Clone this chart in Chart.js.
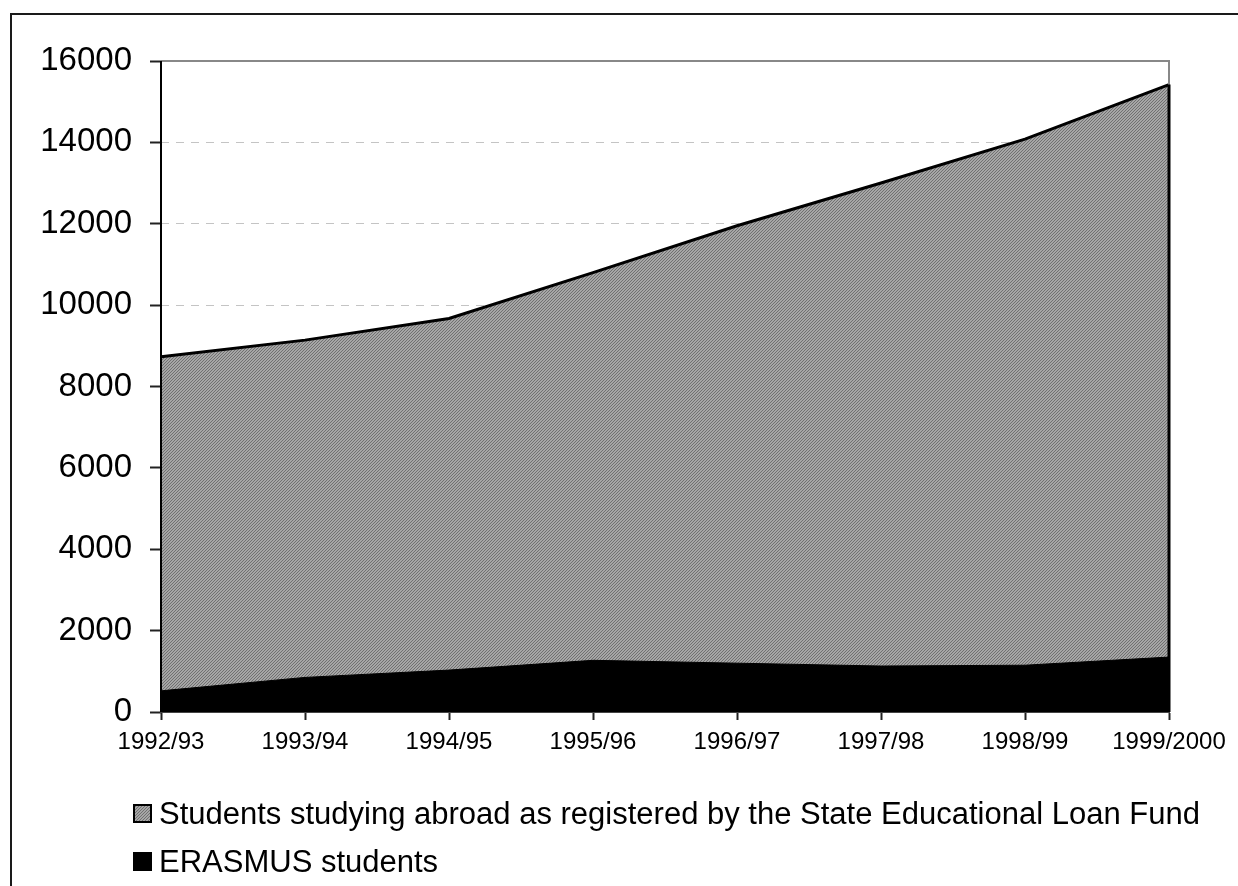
<!DOCTYPE html>
<html>
<head>
<meta charset="utf-8">
<script src="https://cdn.jsdelivr.net/npm/chart.js@4.4.0/dist/chart.umd.min.js"></script>
<style>
  html, body { margin: 0; padding: 0; background: #fff; }
  canvas { display: block; }
</style>
</head>
<body>
<canvas id="chart" width="1238" height="886"></canvas>
<script>
// Data
const years = ['1992/93', '1993/94', '1994/95', '1995/96', '1996/97', '1997/98', '1998/99', '1999/2000'];
const loanFundStudents = [8730, 9140, 9670, 10800, 11950, 13000, 14080, 15420];
const erasmusStudents = [520, 850, 1030, 1270, 1200, 1130, 1150, 1350];
const yTicks = [0, 2000, 4000, 6000, 8000, 10000, 12000, 14000, 16000];
const legendLabels = [
    'Students studying abroad as registered by the State Educational Loan Fund',
    'ERASMUS students'
];

// Fine diagonal hatch for the grey area
function makeHatch() {
    const c = document.createElement('canvas');
    c.width = 3; c.height = 3;
    const g = c.getContext('2d');
    g.fillStyle = '#a6a6a6';
    g.fillRect(0, 0, 3, 3);
    g.fillStyle = '#707070';
    for (let i = 0; i < 3; i++) g.fillRect(2 - i, i, 1, 1);
    return g.createPattern(c, 'repeat');
}
const hatch = makeHatch();

const FONT = "'Liberation Sans', Arial, sans-serif";

// Frame, plot border and legend
const decorPlugin = {
    id: 'decor',
    beforeDraw(chart) {
        const ctx = chart.ctx;
        ctx.save();
        ctx.fillStyle = '#fff';
        ctx.fillRect(0, 0, chart.width, chart.height);
        ctx.strokeStyle = '#1a1a1a';
        ctx.lineWidth = 2;
        ctx.strokeRect(11, 14, chart.width + 20, chart.height + 20);
        ctx.restore();
    },
    afterDatasetsDraw(chart) {
        const ctx = chart.ctx;
        const a = chart.chartArea;
        const x = chart.scales.x, y = chart.scales.y;
        ctx.save();
        // top and right plot border
        ctx.strokeStyle = '#888';
        ctx.lineWidth = 2;
        ctx.beginPath();
        ctx.moveTo(a.left, a.top);
        ctx.lineTo(a.right, a.top);
        ctx.lineTo(a.right, a.bottom);
        ctx.stroke();
        // right edge of the grey area
        const last = loanFundStudents.length - 1;
        ctx.strokeStyle = '#000';
        ctx.lineWidth = 3;
        ctx.beginPath();
        ctx.moveTo(x.getPixelForValue(last), y.getPixelForValue(loanFundStudents[last]));
        ctx.lineTo(x.getPixelForValue(last), y.getPixelForValue(0));
        ctx.stroke();
        // solid left axis
        ctx.strokeStyle = '#000';
        ctx.lineWidth = 2;
        ctx.beginPath();
        ctx.moveTo(a.left, a.top);
        ctx.lineTo(a.left, a.bottom);
        ctx.stroke();
        ctx.restore();
    },
    afterDraw(chart) {
        const ctx = chart.ctx;
        ctx.save();
        ctx.font = '31px ' + FONT;
        ctx.textBaseline = 'middle';
        const fills = [hatch, '#000'];
        const rows = [814, 862];
        legendLabels.forEach((label, i) => {
            const cy = rows[i];
            ctx.fillStyle = fills[i];
            ctx.fillRect(133, cy - 10, 19, 19);
            ctx.strokeStyle = '#000';
            ctx.lineWidth = 2;
            ctx.strokeRect(134, cy - 9, 17, 17);
            ctx.fillStyle = '#000';
            ctx.fillText(label, 159, cy + 1);
        });
        ctx.restore();
    }
};

new Chart(document.getElementById('chart'), {
    type: 'line',
    data: {
        labels: years,
        datasets: [
            {
                label: legendLabels[1],
                data: erasmusStudents,
                order: 0,
                fill: 'origin',
                backgroundColor: '#000',
                borderColor: '#000',
                borderWidth: 1,
                pointRadius: 0,
                tension: 0
            },
            {
                label: legendLabels[0],
                data: loanFundStudents,
                order: 1,
                fill: 'origin',
                backgroundColor: hatch,
                borderColor: '#000',
                borderWidth: 3,
                pointRadius: 0,
                tension: 0
            }
        ]
    },
    options: {
        responsive: false,
        animation: false,
        layout: { padding: { left: 0, right: 69, top: 61, bottom: 0 } },
        plugins: {
            legend: { display: false },
            tooltip: { enabled: false }
        },
        scales: {
            x: {
                offset: false,
                grid: {
                    drawOnChartArea: false,
                    tickLength: 8,
                    tickColor: '#222',
                    tickWidth: 2
                },
                border: { color: '#444', width: 2 },
                ticks: {
                    color: '#000',
                    font: { family: FONT, size: 24 },
                    padding: 8,
                    maxRotation: 0,
                    autoSkip: false
                },
                afterFit(scale) { scale.height = 174; }
            },
            y: {
                min: 0,
                max: 16000,
                afterBuildTicks(scale) { scale.ticks = yTicks.map(v => ({ value: v })); },
                grid: {
                    color: ctx => (ctx.tick && (ctx.tick.value === 0 || ctx.tick.value === 16000)) ? 'rgba(0,0,0,0)' : '#c4c4c4',
                    lineWidth: 1,
                    tickLength: 11,
                    tickColor: '#222',
                    tickWidth: 2
                },
                border: { display: false, dash: [8, 7] },
                ticks: {
                    color: '#000',
                    font: { family: FONT, size: 33 },
                    padding: 18,
                    callback: v => String(v)
                },
                afterFit(scale) { scale.width = 161; }
            }
        }
    },
    plugins: [decorPlugin]
});
</script>
</body>
</html>
